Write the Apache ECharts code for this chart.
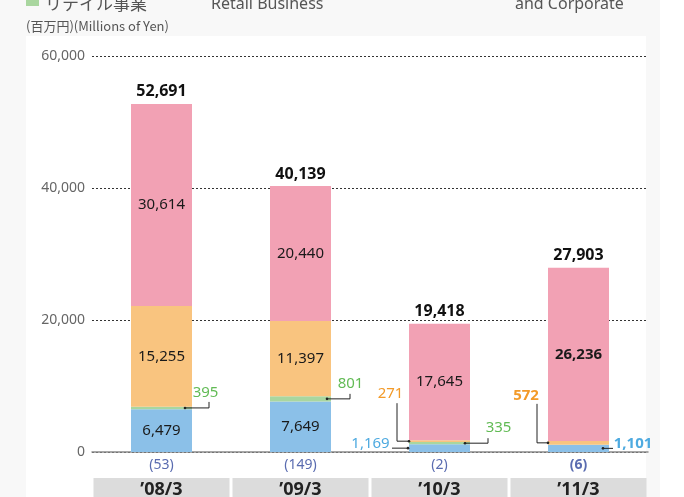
<!DOCTYPE html>
<html>
<head>
<meta charset="utf-8">
<script src="https://cdn.jsdelivr.net/npm/echarts@6/dist/echarts.min.js"></script>
<style>
html,body{margin:0;padding:0;background:#fff;}
#wrap{position:relative;width:684px;height:497px;overflow:hidden;background:linear-gradient(to right,#f8f8f8 0,#f8f8f8 660px,#fff 660px);}
#panel{position:absolute;left:26px;top:36px;width:620px;height:461px;background:#fff;}
#main{position:absolute;left:0;top:0;width:684px;height:497px;}
</style>
</head>
<body>
<div id="wrap"><div id="panel"></div><div id="main"></div></div>
<script>
// data
var categories = ['’08/3', '’09/3', '’10/3', '’11/3'];
var blueVals = [6479, 7649, 1169, 1101];
var greenVals = [395, 801, 335, 0];      // リテイル事業 Retail Business
var orangeVals = [15255, 11397, 271, 572];
var pinkVals = [30614, 20440, 17645, 26236];
var negVals = [-53, -149, -2, -6];
var totals = [52691, 40139, 19418, 27903];
var yMax = 60000, yStep = 20000;

// labels outside the bar, with their leader lines (offsets from segment centre, px)
var callouts = [
  {s: 'green', i: 0, label: [44, -15], line: [[23.5, 0], [47.5, 0], [47.5, -6]]},
  {s: 'green', i: 1, label: [50, -15.5], line: [[26.5, 0], [49.5, 0], [49.5, -5]]},
  {s: 'green', i: 2, label: [59, -15.7], line: [[25.5, 0], [48.5, 0], [48.5, -5]]},
  {s: 'orange', i: 2, label: [-49, -47], line: [[-30.5, 0], [-42.5, 0], [-42.5, -38]]},
  {s: 'blue', i: 2, label: [-69, -4.5], line: [[-31.5, 0], [-47.5, 0]]},
  {s: 'orange', i: 3, label: [-52.5, -47], line: [[-30.5, 0], [-41.5, 0], [-41.5, -39]]},
  {s: 'blue', i: 3, label: [54.5, -5], line: [[24.5, 0], [34.5, 0]]}
];
var outColor = {green: '#62bb55', orange: '#f39a28', blue: '#4eaae0'};
var segColor = {blue: '#8bc0e8', green: '#a9d69f', orange: '#f9c47f', pink: '#f2a1b4'};
var stackOrder = ['blue', 'green', 'orange', 'pink'];
var segVals = {blue: blueVals, green: greenVals, orange: orangeVals, pink: pinkVals};

var fmt = function (v) { return Math.abs(v).toLocaleString('en-US'); };
var FONT = "'Noto Sans', 'Noto Sans CJK JP', sans-serif";

function segData(name) {
  return segVals[name].map(function (v, i) {
    var item = {value: v, label: {fontWeight: i === 3 ? 'bold' : 'normal', fontSize: 15}};
    var c = callouts.filter(function (c) { return c.s === name && c.i === i; })[0];
    if (c) {
      item.label.offset = c.label;
      item.label.color = outColor[name];
    }
    if (v === 0) item.label.show = false;
    return item;
  });
}

var series = stackOrder.map(function (name) {
  return {
    name: name, type: 'bar', stack: 'total', barWidth: 61,
    data: segData(name),
    itemStyle: {color: segColor[name]},
    label: {show: true, position: 'inside', color: '#1a1a1a', fontFamily: FONT,
      formatter: function (p) { return fmt(p.value); }}
  };
});
series.push({
  name: 'neg', type: 'bar', stack: 'total', barWidth: 61, barMinHeight: 2,
  data: negVals.map(function (v, i) { return {value: v, label: {fontWeight: i === 3 ? 'bold' : 'normal'}}; }),
  itemStyle: {color: '#3a4770'},
  label: {show: true, position: 'bottom', distance: 6, color: '#5a6cb0', fontSize: 14, fontFamily: FONT,
    formatter: function (p) { return '(' + fmt(p.value) + ')'; }}
});
series.push({
  name: 'total', type: 'line', data: totals, symbol: 'circle', symbolSize: 1, silent: true, z: 5,
  itemStyle: {color: 'transparent'}, lineStyle: {width: 0, opacity: 0},
  label: {show: true, position: 'top', distance: 4, color: '#111', fontSize: 16, fontWeight: 'bold', fontFamily: FONT,
    formatter: function (p) { return fmt(p.value); }}
});

var chart = echarts.init(document.getElementById('main'));
chart.setOption({
  animation: false,
  textStyle: {fontFamily: FONT},
  grid: {left: 92, right: 36, top: 56, bottom: 45, outerBoundsMode: 'none', containLabel: false},
  xAxis: {
    type: 'category', data: categories,
    axisTick: {show: false},
    axisLine: {lineStyle: {color: '#8a8a8a', width: 1.5}},
    axisLabel: {margin: 26, color: '#222', fontSize: 18, fontWeight: 'bold', fontFamily: FONT,
      backgroundColor: '#dcdcdc', width: 136, height: 24, lineHeight: 24, align: 'center'}
  },
  yAxis: {
    type: 'value', min: 0, max: yMax, interval: yStep,
    axisLine: {show: false}, axisTick: {show: false},
    axisLabel: {color: '#666', fontSize: 14, margin: 7, formatter: fmt},
    splitLine: {lineStyle: {color: '#333', type: [2, 2], width: 1}}
  },
  series: series
});

// header texts
var graphics = [
  {type: 'rect', shape: {x: 26, y: -6, width: 13, height: 12}, style: {fill: '#a9d69f'}},
  {type: 'text', style: {text: 'リテイル事業', x: 45, y: 12, verticalAlign: 'bottom', fill: '#555', fontSize: 17, fontFamily: "'Noto Sans CJK JP'"}},
  {type: 'text', style: {text: 'Retail Business', x: 211, y: 12, verticalAlign: 'bottom', fill: '#555', fontSize: 16, fontFamily: FONT}},
  {type: 'text', style: {text: 'and Corporate', x: 515, y: 12, verticalAlign: 'bottom', fill: '#555', fontSize: 16, fontFamily: FONT}},
  {type: 'text', style: {text: '(百万円)(Millions of Yen)', x: 26, y: 26, verticalAlign: 'middle', fill: '#555', fontSize: 13, fontFamily: "'Noto Sans CJK JP'"}}
];

// leader lines, anchored to the middle of each small segment
callouts.forEach(function (c) {
  var base = 0;
  for (var k = 0; k < stackOrder.indexOf(c.s); k++) base += segVals[stackOrder[k]][c.i];
  var mid = base + segVals[c.s][c.i] / 2;
  var p = chart.convertToPixel({xAxisIndex: 0, yAxisIndex: 0}, [c.i, mid]);
  var pts = c.line.map(function (d) { return [p[0] + d[0], p[1] + d[1]]; });
  graphics.push({type: 'polyline', z: 100, shape: {points: pts}, style: {stroke: '#222', lineWidth: 1, fill: null}});
  graphics.push({type: 'circle', z: 100, shape: {cx: pts[0][0], cy: pts[0][1], r: 1.3}, style: {fill: '#222'}});
});
chart.setOption({graphic: graphics});
</script>
</body>
</html>
